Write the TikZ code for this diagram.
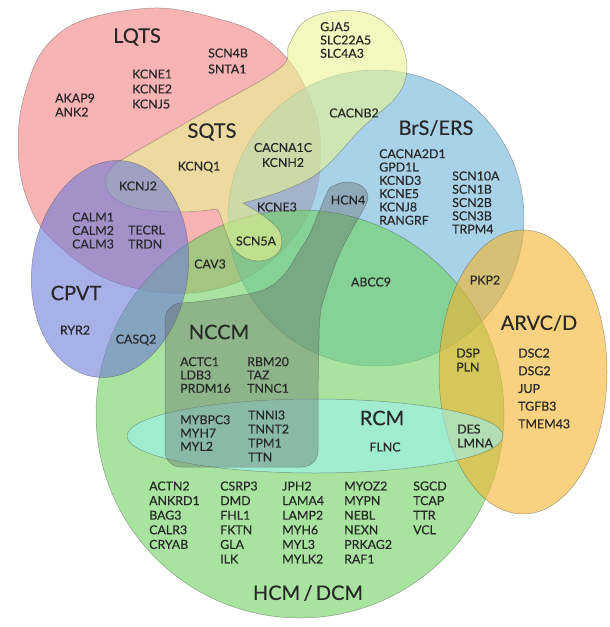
\documentclass[tikz,border=0pt]{standalone}
\usepackage{fontspec}
\setmainfont{Lato}[BoldFont=Lato, BoldFeatures={FakeBold=0.35}]
\definecolor{cLQTS}{RGB}{243,130,130}
\definecolor{cSQTS}{RGB}{233,243,147}
\definecolor{cBRS}{RGB}{110,180,217}
\definecolor{cHCM}{RGB}{110,210,97}
\definecolor{cCPVT}{RGB}{110,123,217}
\definecolor{cARVC}{RGB}{243,180,43}
\definecolor{cRCM}{RGB}{155,241,240}
\definecolor{cNCCM}{RGB}{95,95,95}
\definecolor{txt}{RGB}{40,40,40}
\begin{document}
\begin{tikzpicture}[x=1pt,y=-1pt,
  region/.style={draw=black!75, draw opacity=0.45, line width=0.5pt, fill=#1, fill opacity=0.6},
  gene/.style={font={\fontsize{12.4}{#1}\selectfont\bfseries}, text=txt, inner sep=0pt, align=left, anchor=west},
  gene/.default=13.4,
  title/.style={font={\fontsize{20}{24}\selectfont\bfseries}, text=txt, inner sep=0pt}]
\useasboundingbox (0,0) rectangle (610,627);

% LQTS
\filldraw[region=cLQTS] plot[smooth cycle, tension=0.55] coordinates {(160,8) (83,20) (43,50) (23,100) (18,145) (24,190) (45,232) (95,273) (143,290) (192,293) (238,282) (276,257) (304,222) (318,183) (320,135) (309,95) (290,62) (267,40) (233,23)};
% BrS/ERS
\filldraw[region=cBRS] (376,218) circle[radius=148pt];
% HCM/DCM
\filldraw[region=cHCM] (300,414) circle[radius=204pt];
% SQTS
\filldraw[region=cSQTS] (243,203) -- plot[smooth, tension=0.6] coordinates {(243,203) (265,217) (280,232) (280,250) (266,260) (247,259) (233,248) (226,232) (220,214)} -- plot[smooth, tension=0.6] coordinates {(217,209) (183,212) (140,209) (115,199) (105,183) (112,167) (130,155) (210,109) (280,68) (289,45) (305,21) (337,11) (372,15) (398,37) (407,68) (397,96) (362,128) (322,170) (285,190) (243,203)} -- cycle;
% CPVT
\filldraw[region=cCPVT, rotate around={-8:(110,269)}] (110,269) ellipse[x radius=78pt, y radius=109pt];
% ARVC/D
\filldraw[region=cARVC] (523,372) ellipse[x radius=84pt, y radius=142pt];
% RCM
\filldraw[region=cRCM] (315,436) ellipse[x radius=188pt, y radius=37pt];
% NCCM
\filldraw[draw=black!75, draw opacity=0.45, line width=0.5pt, fill=cNCCM, fill opacity=0.35]
  plot[smooth, tension=0.6] coordinates {(318,400) (319,340) (320,317) (324,298) (337,260) (350,233) (363,210) (368,197) (362,186) (347,182) (333,186) (327,193) (310,233) (300,250) (283,276) (263,290) (230,297) (195,302)}
  [rounded corners=16pt] -- (165,304) -- (165,467) -- (318,467) -- cycle;

% labels
\node[title] (tLQTS) at (137,37) {LQTS};
\node[gene=16] (gSCN4B) at (208,61) {SCN4B\\SNTA1};
\node[gene=15] (gKCNE1) at (132,89) {KCNE1\\KCNE2\\KCNJ5};
\node[gene=14] (gAKAP9) at (55,105) {AKAP9\\ANK2};
\node[title] (tSQTS) at (212,132) {SQTS};
\node[gene, anchor=center] (gKCNQ1) at (199,167) {KCNQ1};
\node[gene=15, align=center, anchor=center] (gCACNA1C) at (283,155) {CACNA1C\\KCNH2};
\node[gene, anchor=center] (gKCNJ2) at (138,186) {KCNJ2};
\node[gene=13.3] (gGJA5) at (320,40) {GJA5\\SLC22A5\\SLC4A3};
\node[gene, anchor=center] (gCACNB2) at (354,113) {CACNB2};
\node[title] (tBRS) at (436,128) {BrS/ERS};
\node[gene=13.3] (gCACNA2D1) at (379,187) {CACNA2D1\\GPD1L\\KCND3\\KCNE5\\KCNJ8\\RANGRF};
\node[gene=13.3] (gSCN10A) at (452,202.5) {SCN10A\\SCN1B\\SCN2B\\SCN3B\\TRPM4};
\node[gene, anchor=center] (gHCN4) at (348,200) {HCN4};
\node[gene, anchor=center] (gKCNE3) at (277,207) {KCNE3};
\node[gene, anchor=center] (gSCN5A) at (256,241) {SCN5A};
\node[gene=13.5] (gCALM) at (72,230.5) {CALM1\\CALM2\\CALM3};
\node[gene=14] (gTECRL) at (128,237) {TECRL\\TRDN};
\node[gene, anchor=center] (gCAV3) at (210,264) {CAV3};
\node[title] (tCPVT) at (76,293) {CPVT};
\node[gene, anchor=center] (gRYR2) at (75,330) {RYR2};
\node[gene, anchor=center] (gCASQ2) at (136,340) {CASQ2};
\node[title] (tNCCM) at (219,332) {NCCM};
\node[gene=13.3] (gACTC1) at (180,375) {ACTC1\\LDB3\\PRDM16};
\node[gene=13.3] (gRBM20) at (247,375) {RBM20\\TAZ\\TNNC1};
\node[gene, anchor=center] (gABCC9) at (371,282) {ABCC9};
\node[gene, anchor=center] (gPKP2) at (485,280) {PKP2};
\node[title] (tARVC) at (539,323) {ARVC/D};
\node[gene=14] (gDSP) at (456,360) {DSP\\PLN};
\node[gene=17.7] (gDSC2) at (518,388.5) {DSC2\\DSG2\\JUP\\TGFB3\\TMEM43};
\node[gene=14] (gDES) at (457,436) {DES\\LMNA};
\node[gene=13.3] (gMYBPC3) at (180,433) {MYBPC3\\MYH7\\MYL2};
\node[gene=14] (gTNNI3) at (248,436) {TNNI3\\TNNT2\\TPM1\\TTN};
\node[title] (tRCM) at (382,418) {RCM};
\node[gene, anchor=center] (gFLNC) at (385,447) {FLNC};
\node[gene=14.6] (gcol1) at (149,515.2) {ACTN2\\ANKRD1\\BAG3\\CALR3\\CRYAB};
\node[gene=14.6] (gcol2) at (220,522.5) {CSRP3\\DMD\\FHL1\\FKTN\\GLA\\ILK};
\node[gene=14.6] (gcol3) at (282,522.5) {JPH2\\LAMA4\\LAMP2\\MYH6\\MYL3\\MYLK2};
\node[gene=14.6] (gcol4) at (344,522.5) {MYOZ2\\MYPN\\NEBL\\NEXN\\PRKAG2\\RAF1};
\node[gene=14.6] (gcol5) at (413,507.9) {SGCD\\TCAP\\TTR\\VCL};
\node[title] (tHCM) at (308,593) {HCM\,/\,DCM};
\end{tikzpicture}
\end{document}
